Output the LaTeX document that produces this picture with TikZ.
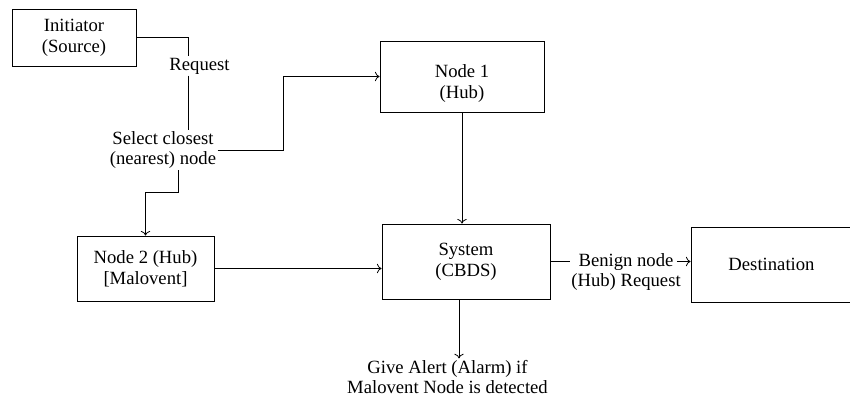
\documentclass[tikz,border=0pt]{standalone}
\usepackage{fontspec}
\setmainfont{Liberation Serif}
\usepackage{tikz}
\usetikzlibrary{shapes,arrows,arrows.meta}
\usetikzlibrary{positioning}
\tikzstyle{block} = [rectangle, draw, semithick, align=center, inner sep=1pt]
\tikzstyle{txt} = [align=center, inner sep=1pt]
\tikzstyle{edge} = [draw, semithick, -]
\tikzstyle{line} = [draw, semithick, -{To[length=3.5pt,width=7pt]}]

\begin{document}
\begin{tikzpicture}[x=0.75pt, y=-0.75pt, font=\fontsize{14}{15.5}\selectfont]
  \useasboundingbox (0,0) rectangle (850,398);
  % Place nodes
  \node [block, minimum width=93pt, minimum height=42.75pt] (init) at (74,37.5) {Initiator\\(Source)};
  \node [txt] (req) at (199.5,66) {Request};
  \node [txt] (sel) at (163,150) {Select closest\\(nearest) node};
  \node [block, minimum width=123pt, minimum height=53.25pt,
         label={[txt, yshift=-5.25pt]center:Node 1\\(Hub)}] (node1) at (462,76.5) {};
  \node [block, minimum width=102.75pt, minimum height=48.75pt] (node2) at (145.5,268.5) {Node 2 (Hub)\\{[Malovent]}};
  \node [block, minimum width=126pt, minimum height=56.25pt] (sys) at (466,261.5) {System\\(CBDS)};
  \node [txt] (benign) at (626,272) {Benign node\\(Hub) Request};
  \node [block, minimum width=120.75pt, minimum height=56.25pt] (dest) at (771.5,264.5) {Destination};
  \node [txt] (alert) at (447.5,377) {Give Alert (Alarm) if\\Malovent Node is detected};
  % Draw edges
  \path [edge] (init.east) -| ([xshift=-8.25pt]req.north);
  \path [edge] ([xshift=-8.25pt]req.south) -- ([xshift=-8.25pt]req.south |- sel.north);
  \path [line] (sel.east) -- ++(66,0) |- (node1.west);
  \path [line] ([xshift=11.25pt]sel.south) -- ++(0,22) -| (node2.north);
  \path [line] (node2.east) -- (node2.east -| sys.west);
  \path [line] (node1.south) -- (node1.south |- sys.north);
  \path [line] ([xshift=-5.25pt]sys.south) -- ([xshift=-5.25pt]sys.south |- alert.north);
  \path [edge] (sys.east) -- (benign.west |- sys.east);
  \path [line] ([xshift=-4pt]benign.east |- sys.east) -- (dest.west |- sys.east);
\end{tikzpicture}
\end{document}
